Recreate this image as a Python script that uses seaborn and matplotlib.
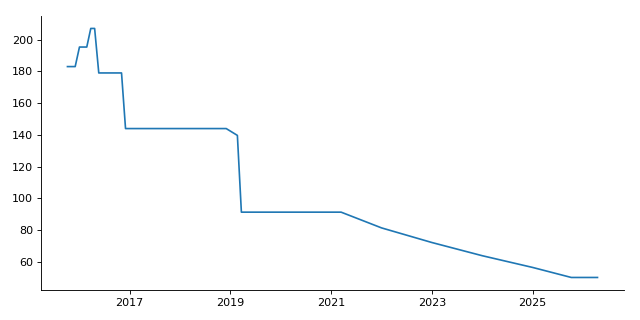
import matplotlib
matplotlib.use("Agg")
import matplotlib.pyplot as plt
import seaborn as sns
import pandas as pd

dates = ["2015-10-08", "2015-12-03", "2016-01-03", "2016-02-25", "2016-03-25",
         "2016-04-22", "2016-05-22", "2016-11-03", "2016-12-02", "2018-12-02",
         "2019-02-21", "2019-03-22", "2021-03-14", "2022-01-01", "2023-01-01",
         "2024-01-01", "2025-01-01", "2025-10-08", "2026-04-16"]
values = [183, 183, 195.3, 195.3, 207, 207, 179, 179, 144, 144,
          139.7, 91.4, 91.4, 81.5, 72.3, 64.0, 56.6, 50.3, 50.3]
tick_years = ["2017", "2019", "2021", "2023", "2025"]

df = pd.DataFrame({"date": pd.to_datetime(dates), "value": values})

fig, ax = plt.subplots(figsize=(8, 4), dpi=80)
sns.lineplot(data=df, x="date", y="value", ax=ax, color="#1f77b4", linewidth=1.5)
ax.set_xticks(pd.to_datetime([y + "-01-01" for y in tick_years]))
ax.set_xticklabels(tick_years)
ax.set_xlabel("")
ax.set_ylabel("")
sns.despine(ax=ax)
fig.subplots_adjust(left=0.064, right=0.975, top=0.95, bottom=0.094)
fig.savefig("out.png", dpi=80)
